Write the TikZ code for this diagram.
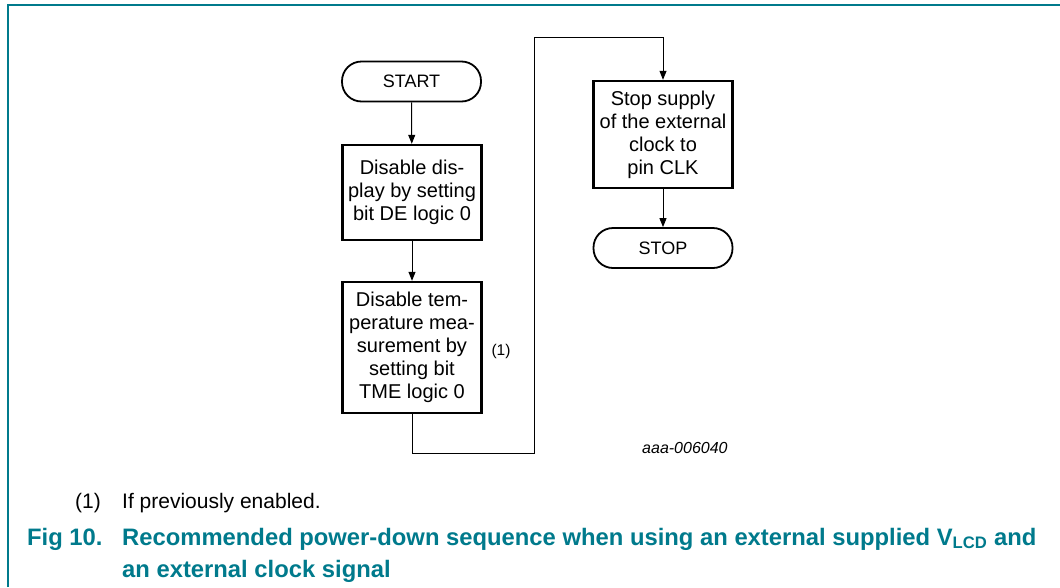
\documentclass[tikz,border=0pt]{standalone}
\usepackage{fontspec}
\setmainfont{Liberation Sans}
\usetikzlibrary{arrows.meta}
\definecolor{nxp}{RGB}{0,122,140}
\begin{document}
\begin{tikzpicture}[x=1pt,y=-1pt,
  proc/.style={draw, line width=2.4pt, minimum width=139pt, align=center, inner sep=0pt,
    font=\fontsize{20}{23}\selectfont},
  term/.style={draw, line width=1.8pt, rounded corners=19.5pt, minimum width=139pt, minimum height=40pt,
    inner sep=0pt, font=\fontsize{18}{21}\selectfont},
  conn/.style={line width=1pt, -{Triangle[length=9pt,width=7pt]}},
  lbl/.style={inner sep=0pt, font=\fontsize{15.5}{18}\selectfont},
  foot/.style={inner sep=0pt, anchor=base west, font=\fontsize{21}{24}\selectfont},
  captxt/.style={inner sep=0pt, anchor=base west, text=nxp, font=\fontsize{23.8}{27}\selectfont\bfseries}]
\useasboundingbox (0,0) rectangle (1060,587);
\draw[nxp, line width=2pt] (8,587) |- (1060,5);

\node[term] (start) at (411.5,81.5) {START};
\node[proc, minimum height=95pt] (b1) at (412,192.5) {Disable dis-\\play by setting\\bit DE logic 0};
\node[proc, minimum height=131pt] (b2) at (412,347.5) {Disable tem-\\perature mea-\\surement by\\setting bit\\TME logic 0};
\node[proc, minimum height=107pt] (b3) at (663,134.5) {Stop supply\\of the external\\clock to\\pin CLK};
\node[term] (stop) at (663,248) {STOP};

\coordinate (c1) at (412,453);
\coordinate (c2) at (534,453);
\coordinate (c3) at (534,37);
\coordinate (c4) at (663,37);

\draw[conn] (start) -- (b1);
\draw[conn] (b1) -- (b2);
\draw[conn] (b2.south) -- (c1) -- (c2) -- (c3) -- (c4) -- (b3.north);
\draw[conn] (b3) -- (stop);

\node[lbl] (note) at (501,351) {(1)};
\node[lbl, anchor=base west, font=\fontsize{16}{18}\selectfont\itshape] (code) at (642,453) {aaa-006040};

\node[foot] (fn1) at (75,508) {(1)};
\node[foot] (fn2) at (122,508) {If previously enabled.};

\node[captxt] (fig) at (27,545) {Fig 10.};
\node[captxt] (cap1) at (122,545) {Recommended power-down sequence when using an external supplied V\textsubscript{LCD} and};
\node[captxt] (cap2) at (122,577) {an external clock signal};
\end{tikzpicture}
\end{document}
